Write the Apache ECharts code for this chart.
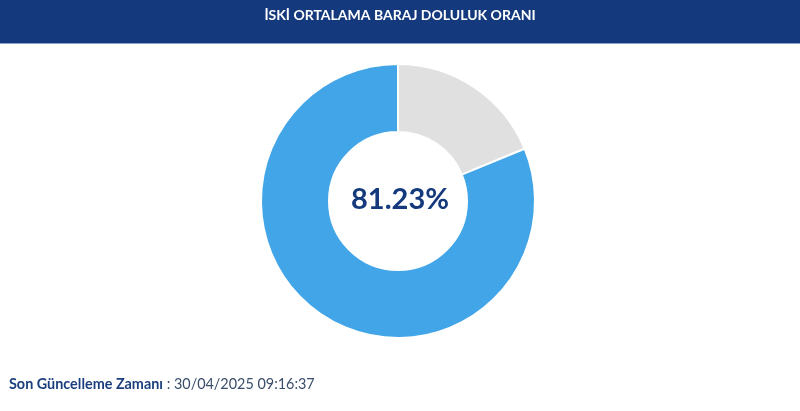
<!DOCTYPE html>
<html><head><meta charset="utf-8">
<script src="https://cdn.jsdelivr.net/npm/echarts@6/dist/echarts.min.js"></script>
<style>html,body{margin:0;padding:0;background:#fff}#c{width:800px;height:411px}</style>
</head><body><div id="c"></div>
<script>
const titleText = 'İSKİ ORTALAMA BARAJ DOLULUK ORANI';
const categories = ['Boş', 'Dolu'];
const values = [18.77, 81.23];
const centerLabel = '81.23%';
const updateLabel = 'Son Güncelleme Zamanı';
const updateTime = '30/04/2025 09:16:37';

const chart = echarts.init(document.getElementById('c'), null, {renderer: 'canvas'});
chart.setOption({
  animation: false,
  graphic: [
    {type: 'rect', left: 0, top: 0, shape: {width: 800, height: 43}, style: {fill: '#143a7d'}, z: 0},
    {type: 'rect', left: 0, top: 43, shape: {width: 800, height: 1}, style: {fill: '#8fa3c4'}, z: 0},
    {type: 'text', left: 'center', top: 8, style: {text: titleText, fill: '#fff', font: 'bold 14px Lato, sans-serif'}, z: 2},
    {type: 'text', left: 'center', top: 185, style: {text: centerLabel, fill: '#143a7d', font: 'bold 29px Lato, sans-serif'}, z: 5},
    {type: 'text', left: 9, top: 377, style: {
      rich: {
        b: {fill: '#1b3f7e', font: 'bold 14.4px Lato, sans-serif'},
        n: {fill: '#3a4d6a', font: '14.4px Lato, sans-serif'}
      },
      text: '{b|' + updateLabel + '}{n| : ' + updateTime + '}'
    }, z: 2}
  ],
  series: [{
    type: 'pie',
    center: [398, 201],
    radius: [69, 137],
    startAngle: 90,
    clockwise: true,
    label: {show: false},
    labelLine: {show: false},
    silent: true,
    itemStyle: {borderColor: '#fff', borderWidth: 2},
    data: categories.map((c, i) => ({name: c, value: values[i], itemStyle: {color: i === 0 ? '#e0e0e0' : '#42a5e8'}}))
  }]
});
</script></body></html>
